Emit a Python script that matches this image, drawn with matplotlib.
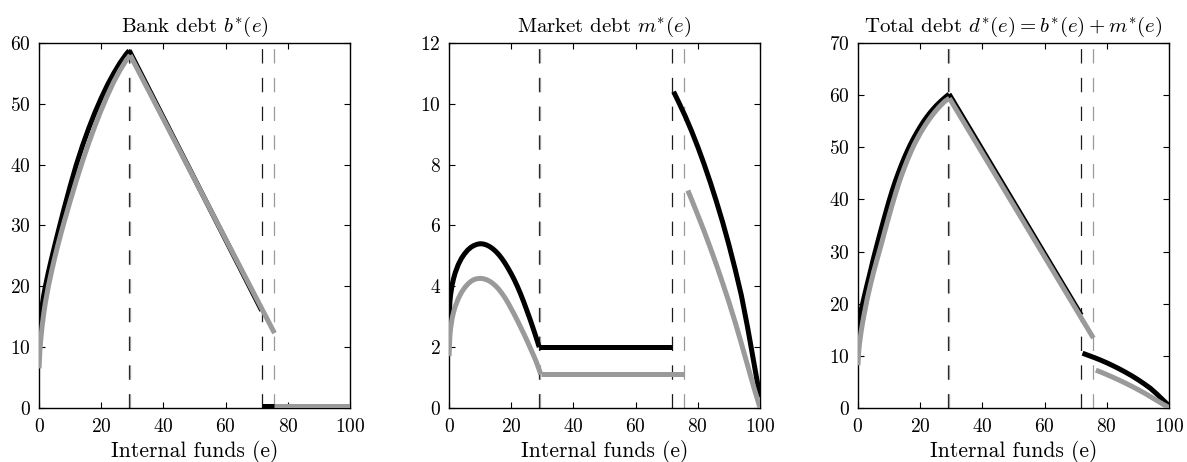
#!/usr/bin/env python3
"""
Optimal debt structure as a function of internal funds.

Three panels: bank debt b*(e), market debt m*(e) and total debt d*(e).
Black curves are the baseline case, grey curves the alternative case.
Dashed verticals mark the regime thresholds of each case.
"""

import matplotlib.pyplot as plt

# ---------------------------------------------------------------------------
# Data (each curve is split into its regime segments)
# ---------------------------------------------------------------------------

# Regime thresholds on e
cut_black = [29.0, 71.6]
cut_grey = [29.4, 75.7]

# Bank debt b*(e)
bank_black_e1 = [0, 0.25, 0.5, 1, 1.5, 2, 3, 4, 5, 6, 7, 8, 10, 12, 14, 16,
                 18, 20, 22, 24, 26, 28, 29]
bank_black_v1 = [11, 13.2, 14.7, 16.8, 18.5, 19.9, 22.3, 24.5, 26.6, 28.65,
                 30.65, 32.65, 36.45, 40.0, 43.15, 46.0, 48.6, 50.95, 53.1,
                 55.0, 56.7, 58.15, 58.75]
bank_black_e2 = [29.0, 71.6]
bank_black_v2 = [58.75, 16.0]
bank_black_e3 = [71.6, 100]
bank_black_v3 = [0.25, 0.25]

bank_grey_e1 = [0, 0.25, 0.5, 1, 1.5, 2, 3, 4, 5, 6, 7, 8, 10, 12, 14, 16,
                18, 20, 22, 24, 26, 28, 29.3]
bank_grey_v1 = [6.5, 9.3, 11.0, 13.5, 15.5, 17.2, 20.0, 22.4, 24.6, 26.65,
                28.6, 30.45, 34.0, 37.4, 40.6, 43.6, 46.4, 49.0, 51.4, 53.6,
                55.5, 57.15, 58.0]
bank_grey_e2 = [29.3, 75.7]
bank_grey_v2 = [58.0, 12.3]
bank_grey_e3 = [75.7, 100]
bank_grey_v3 = [0.25, 0.25]

# Market debt m*(e)
mkt_black_e1 = [0, 0.25, 0.5, 1, 1.5, 2, 3, 4, 5, 6, 7, 8, 9, 10, 11, 12, 13,
                14, 15, 16, 17, 18, 19, 20, 21, 22, 23, 24, 25, 26, 27, 28, 29]
mkt_black_v1 = [2.8, 3.45, 3.72, 4.05, 4.27, 4.45, 4.72, 4.92, 5.07, 5.19,
                5.28, 5.34, 5.38, 5.4, 5.39, 5.36, 5.31, 5.24, 5.15, 5.04,
                4.91, 4.76, 4.59, 4.41, 4.21, 3.99, 3.75, 3.49, 3.21, 2.93,
                2.63, 2.32, 2.0]
mkt_black_e2 = [29, 71.6]
mkt_black_v2 = [2.0, 2.0]
mkt_black_e3 = [72.2, 74, 76, 78, 80, 82, 84, 86, 88, 90, 92, 94, 96, 98, 100]
mkt_black_v3 = [10.4, 10.02, 9.58, 9.1, 8.58, 8.02, 7.42, 6.78, 6.1, 5.36,
                4.56, 3.7, 2.65, 1.5, 0.35]

mkt_grey_e1 = [0, 0.25, 0.5, 1, 1.5, 2, 3, 4, 5, 6, 7, 8, 9, 10, 11, 12, 13,
               14, 15, 16, 17, 18, 19, 20, 21, 22, 23, 24, 25, 26, 27, 28, 29,
               29.5]
mkt_grey_v1 = [1.7, 2.35, 2.62, 2.95, 3.17, 3.34, 3.6, 3.8, 3.95, 4.07, 4.16,
               4.22, 4.25, 4.26, 4.25, 4.22, 4.17, 4.1, 4.01, 3.9, 3.77, 3.62,
               3.45, 3.26, 3.07, 2.87, 2.66, 2.45, 2.23, 2.0, 1.77, 1.53,
               1.25, 1.1]
mkt_grey_e2 = [29.5, 75.7]
mkt_grey_v2 = [1.1, 1.1]
mkt_grey_e3 = [76.8, 78, 80, 82, 84, 86, 88, 90, 92, 94, 96, 98, 100]
mkt_grey_v3 = [7.15, 6.85, 6.34, 5.82, 5.27, 4.7, 4.1, 3.48, 2.82, 2.12, 1.4,
               0.68, 0.0]

# Total debt d*(e)
tot_black_e1 = [0, 0.25, 0.5, 1, 1.5, 2, 3, 4, 5, 6, 7, 8, 9, 10, 11, 12, 13,
                14, 15, 16, 17, 18, 19, 20, 21, 22, 23, 24, 25, 26, 27, 28,
                29.3]
tot_black_v1 = [13.5, 15.6, 16.9, 18.7, 20.0, 21.3, 23.8, 26.2, 28.7, 31.0,
                33.25, 35.45, 37.6, 39.7, 41.65, 43.45, 45.1, 46.65, 48.1,
                49.45, 50.7, 51.85, 52.9, 53.9, 54.85, 55.7, 56.48, 57.2,
                57.86, 58.46, 59.02, 59.54, 60.2]
tot_black_e2 = [29.3, 71.8]
tot_black_v2 = [60.2, 17.8]
tot_black_e3 = [72.2, 74, 76, 78, 80, 82, 84, 86, 88, 90, 92, 94, 96, 98, 100]
tot_black_v3 = [10.5, 10.1, 9.66, 9.18, 8.66, 8.1, 7.5, 6.86, 6.18, 5.44,
                4.64, 3.78, 2.73, 1.58, 0.43]

tot_grey_e1 = [0, 0.25, 0.5, 1, 1.5, 2, 3, 4, 5, 6, 7, 8, 9, 10, 11, 12, 13,
               14, 15, 16, 17, 18, 19, 20, 21, 22, 23, 24, 25, 26, 27, 28,
               29.4]
tot_grey_v1 = [8.2, 10.9, 12.4, 14.6, 16.4, 18.0, 21.0, 23.6, 26.0, 28.2,
               30.3, 32.5, 34.7, 36.85, 38.95, 40.95, 42.85, 44.6, 46.2, 47.7,
               49.1, 50.4, 51.55, 52.63, 53.63, 54.56, 55.42, 56.22, 56.96,
               57.64, 58.26, 58.83, 59.4]
tot_grey_e2 = [29.4, 75.7]
tot_grey_v2 = [59.4, 13.4]
tot_grey_e3 = [76.5, 78, 80, 82, 84, 86, 88, 90, 92, 94, 96, 98, 100]
tot_grey_v3 = [7.25, 6.9, 6.4, 5.88, 5.33, 4.76, 4.16, 3.54, 2.88, 2.18, 1.46,
               0.74, 0.08]

x_ticks = [0, 20, 40, 60, 80, 100]

BLACK = '#000000'
GREY = '#9a9a9a'
LW = 3.6
DASH = (11.5, 11.5)


def style_axes(ax, ymax, ystep):
    """MATLAB-like box axes with inward ticks on all sides."""
    ax.set_xlim(0, 100)
    ax.set_ylim(0, ymax)
    ax.set_xticks(x_ticks)
    ax.set_yticks(range(0, ymax + 1, ystep))
    ax.tick_params(direction='in', top=True, right=True, length=4,
                   width=0.8, labelsize=14)
    ax.tick_params(axis='x', pad=7)
    ax.tick_params(axis='y', pad=6)
    for sp in ax.spines.values():
        sp.set_linewidth(1.0)
    ax.set_xlabel('Internal funds (e)', fontsize=15.5, labelpad=3)


def draw_cuts(ax):
    """Dashed verticals at the regime thresholds."""
    for c in cut_black:
        ax.axvline(c, color='#1a1a1a', lw=0.9, dashes=DASH, zorder=1)
    for c in cut_grey:
        ax.axvline(c, color=GREY, lw=0.9, dashes=DASH, zorder=1)


def draw_segments(ax, segs, color):
    for e, v in segs:
        ax.plot(e, v, color=color, lw=LW, solid_capstyle='butt',
                solid_joinstyle='round', zorder=3)


def main():
    plt.rcParams['font.family'] = 'serif'
    plt.rcParams['font.serif'] = ['cmr10']
    plt.rcParams['mathtext.fontset'] = 'cm'
    plt.rcParams['axes.formatter.use_mathtext'] = True

    fig = plt.figure(figsize=(11.87, 4.62), dpi=100)
    bottom, height, width = 0.117, 0.790, 0.262
    ax1 = fig.add_axes([0.0329, bottom, width, height])
    ax2 = fig.add_axes([0.3783, bottom, width, height])
    ax3 = fig.add_axes([0.7228, bottom, width, height])

    # Bank debt
    draw_cuts(ax1)
    draw_segments(ax1, [(bank_black_e1, bank_black_v1),
                        (bank_black_e2, bank_black_v2),
                        (bank_black_e3, bank_black_v3)], BLACK)
    draw_segments(ax1, [(bank_grey_e1, bank_grey_v1),
                        (bank_grey_e2, bank_grey_v2),
                        (bank_grey_e3, bank_grey_v3)], GREY)
    style_axes(ax1, 60, 10)
    ax1.set_title(r'Bank debt $b^{*}(e)$', fontsize=15, pad=8)

    # Market debt
    draw_cuts(ax2)
    draw_segments(ax2, [(mkt_black_e1, mkt_black_v1),
                        (mkt_black_e2, mkt_black_v2),
                        (mkt_black_e3, mkt_black_v3)], BLACK)
    draw_segments(ax2, [(mkt_grey_e1, mkt_grey_v1),
                        (mkt_grey_e2, mkt_grey_v2),
                        (mkt_grey_e3, mkt_grey_v3)], GREY)
    style_axes(ax2, 12, 2)
    ax2.set_title(r'Market debt $m^{*}(e)$', fontsize=15, pad=8)

    # Total debt
    draw_cuts(ax3)
    draw_segments(ax3, [(tot_black_e1, tot_black_v1),
                        (tot_black_e2, tot_black_v2),
                        (tot_black_e3, tot_black_v3)], BLACK)
    draw_segments(ax3, [(tot_grey_e1, tot_grey_v1),
                        (tot_grey_e2, tot_grey_v2),
                        (tot_grey_e3, tot_grey_v3)], GREY)
    style_axes(ax3, 70, 10)
    ax3.set_title(r'Total debt $d^{*}(e) = b^{*}(e) + m^{*}(e)$',
                  fontsize=15, pad=8)

    fig.savefig('out.png', dpi=100)
    plt.close(fig)


if __name__ == '__main__':
    main()
